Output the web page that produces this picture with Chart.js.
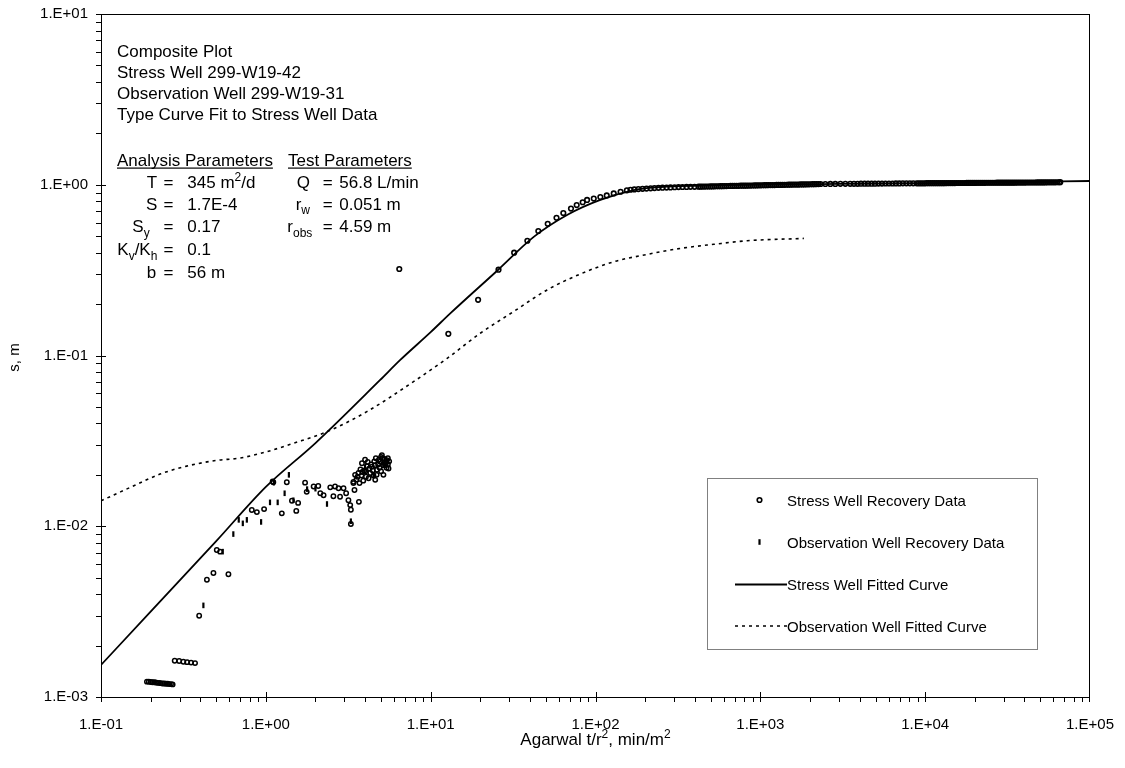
<!DOCTYPE html>
<html>
<head>
<meta charset="utf-8">
<script src="https://cdn.jsdelivr.net/npm/chart.js@4/dist/chart.umd.min.js"></script>
<style>
  body { margin: 0; background: #fff; }
</style>
</head>
<body>
<canvas id="chart" width="1125" height="768"></canvas>
<script>
const FONT = '"Liberation Sans", Arial, Helvetica, sans-serif';

// axis ticks
const xTicks = [0.1, 1, 10, 100, 1000, 10000, 100000];
const xTickLabels = ['1.E-01', '1.E+00', '1.E+01', '1.E+02', '1.E+03', '1.E+04', '1.E+05'];
const yTicks = [0.001, 0.01, 0.1, 1, 10];
const yTickLabels = ['1.E-03', '1.E-02', '1.E-01', '1.E+00', '1.E+01'];

// [Agarwal t/r2, s]
const stressData = [
    [6.45, 0.321], [12.8, 0.134], [19.4, 0.212], [25.8, 0.318], [32.1, 0.400], [38.6, 0.470], [45.0, 0.536],
    [51.3, 0.591], [58.0, 0.641], [63.8, 0.683], [71.0, 0.725], [76.9, 0.760], [83.6, 0.790], [88.9, 0.815],
    [97.6, 0.830], [107, 0.847], [117, 0.866], [129, 0.890], [142, 0.910], [155, 0.928],
    [163, 0.935], [172, 0.939], [182, 0.943], [193, 0.947], [204, 0.950], [216, 0.953], [228, 0.956],
    [241, 0.959], [255, 0.961], [270, 0.963], [285, 0.965], [302, 0.967], [319, 0.969], [337, 0.970],
    [357, 0.971], [377, 0.972], [399, 0.973], [422, 0.974],
    [433, 0.975], [445, 0.976], [458, 0.976], [471, 0.977], [484, 0.977], [498, 0.978], [512, 0.978],
    [527, 0.979], [542, 0.980], [557, 0.980], [573, 0.981], [589, 0.981], [606, 0.982], [623, 0.982],
    [641, 0.983], [659, 0.984], [678, 0.984], [697, 0.985], [717, 0.985], [737, 0.986], [758, 0.987],
    [780, 0.987], [802, 0.988], [824, 0.988], [848, 0.989], [872, 0.989], [897, 0.990], [922, 0.991],
    [948, 0.991], [975, 0.992], [1003, 0.992], [1031, 0.993], [1060, 0.994], [1091, 0.994], [1121, 0.995],
    [1153, 0.995], [1186, 0.996], [1220, 0.996], [1254, 0.997], [1290, 0.998], [1326, 0.998], [1364, 0.999],
    [1403, 0.999], [1442, 1.000], [1483, 1.001], [1525, 1.001], [1569, 1.002], [1613, 1.002], [1659, 1.003],
    [1706, 1.003], [1754, 1.004], [1804, 1.005], [1855, 1.005], [1908, 1.006], [1962, 1.006], [2018, 1.007],
    [2075, 1.008], [2134, 1.008], [2194, 1.009], [2257, 1.009], [2321, 1.010],
    [2480, 1.010], [2660, 1.011], [2850, 1.011], [3060, 1.012], [3280, 1.012], [3510, 1.013],
    [3700, 1.013], [3890, 1.013], [4080, 1.014], [4290, 1.014], [4500, 1.015], [4730, 1.015], [4960, 1.015],
    [5210, 1.016], [5470, 1.016], [5740, 1.017], [6030, 1.017], [6330, 1.017], [6640, 1.018], [6970, 1.018],
    [7320, 1.019], [7690, 1.019], [8070, 1.019], [8470, 1.020], [8890, 1.020],
    [9140, 1.020], [9400, 1.020], [9670, 1.020], [9950, 1.020], [10230, 1.021], [10520, 1.021], [10820, 1.021],
    [11130, 1.021], [11440, 1.021], [11770, 1.022], [12100, 1.022], [12450, 1.022], [12800, 1.022], [13160, 1.022],
    [13540, 1.023], [13920, 1.023], [14320, 1.023], [14720, 1.023], [15140, 1.023], [15570, 1.024], [16010, 1.024],
    [16470, 1.024], [16940, 1.024], [17420, 1.024], [17910, 1.025], [18420, 1.025], [18940, 1.025], [19480, 1.025],
    [20030, 1.025], [20600, 1.026], [21190, 1.026], [21790, 1.026], [22410, 1.026], [23040, 1.026], [23700, 1.027],
    [24370, 1.027], [25060, 1.027], [25770, 1.027], [26500, 1.027], [27260, 1.028], [28030, 1.028], [28830, 1.028],
    [29640, 1.028], [30490, 1.028], [31350, 1.029], [32240, 1.029], [33160, 1.029], [34100, 1.029], [35070, 1.029],
    [36060, 1.030], [37090, 1.030], [38140, 1.030], [39220, 1.030], [40340, 1.030], [41480, 1.031], [42660, 1.031],
    [43870, 1.031], [45120, 1.031], [46400, 1.031], [47710, 1.032], [49070, 1.032], [50460, 1.032], [51890, 1.032],
    [53370, 1.032], [54880, 1.033], [56440, 1.033], [58040, 1.033], [59690, 1.033], [61380, 1.033], [63130, 1.034],
    [64920, 1.034], [66000, 1.035]
];

const obsData = [
    [0.190, 1.23e-3], [0.195, 1.23e-3], [0.200, 1.225e-3], [0.205, 1.22e-3], [0.210, 1.22e-3], [0.215, 1.215e-3],
    [0.220, 1.21e-3], [0.225, 1.21e-3], [0.230, 1.205e-3], [0.236, 1.20e-3], [0.242, 1.20e-3], [0.248, 1.195e-3],
    [0.254, 1.195e-3], [0.260, 1.19e-3], [0.266, 1.19e-3], [0.272, 1.185e-3],
    [0.280, 1.63e-3], [0.298, 1.625e-3], [0.316, 1.61e-3], [0.333, 1.60e-3], [0.352, 1.59e-3], [0.372, 1.58e-3],
    [0.394, 2.99e-3], [0.439, 4.86e-3], [0.481, 5.32e-3], [0.504, 7.26e-3], [0.528, 7.10e-3], [0.593, 5.23e-3],
    [0.822, 1.245e-2], [0.882, 1.21e-2], [0.976, 1.26e-2], [1.10, 1.83e-2], [1.11, 1.81e-2], [1.34, 1.81e-2],
    [1.25, 1.19e-2], [1.44, 1.41e-2], [1.57, 1.37e-2], [1.53, 1.23e-2], [1.73, 1.80e-2], [1.77, 1.59e-2],
    [1.95, 1.71e-2], [2.08, 1.72e-2], [2.14, 1.56e-2], [2.24, 1.52e-2], [2.46, 1.69e-2], [2.57, 1.50e-2],
    [2.63, 1.71e-2], [2.76, 1.67e-2], [2.82, 1.49e-2], [2.96, 1.67e-2], [3.07, 1.56e-2], [3.17, 1.42e-2],
    [3.25, 1.33e-2], [3.28, 1.25e-2], [3.28, 1.03e-2], [3.40, 1.79e-2], [3.45, 1.63e-2], [3.67, 1.39e-2],
    [3.48, 2.00e-2], [3.70, 1.79e-2], [3.40, 1.82e-2], [3.83, 2.34e-2], [4.01, 2.09e-2], [4.20, 1.91e-2],
    [4.40, 2.23e-2], [4.61, 1.87e-2], [4.72, 2.14e-2], [4.94, 2.39e-2], [5.06, 2.61e-2], [5.17, 2.00e-2],
    [5.30, 2.28e-2], [5.43, 2.44e-2], [5.55, 2.18e-2], [3.60, 1.95e-2], [3.90, 1.85e-2], [4.10, 2.25e-2],
    [4.30, 2.05e-2], [4.50, 1.98e-2], [4.80, 2.30e-2], [5.00, 2.10e-2], [5.20, 2.35e-2], [5.40, 2.20e-2],
    [5.60, 2.40e-2], [4.65, 2.50e-2], [5.10, 2.50e-2], [3.75, 2.15e-2],
    [3.55, 1.88e-2], [3.65, 2.05e-2], [3.80, 1.98e-2], [3.95, 2.12e-2], [4.05, 1.95e-2], [4.15, 2.38e-2],
    [4.25, 2.18e-2], [4.35, 2.30e-2], [4.45, 2.12e-2], [4.55, 2.40e-2], [4.70, 2.00e-2], [4.85, 2.45e-2],
    [4.90, 2.20e-2], [5.00, 2.55e-2], [5.15, 2.28e-2], [5.25, 2.48e-2], [5.35, 2.35e-2], [5.50, 2.50e-2],
    [5.50, 2.30e-2], [4.60, 2.28e-2], [4.00, 2.45e-2], [3.85, 2.08e-2]
];

const obsBarData = [
    [0.418, 3.44e-3], [0.548, 7.10e-3], [0.635, 9.00e-3], [0.685, 1.09e-2], [0.725, 1.04e-2], [0.767, 1.09e-2],
    [0.936, 1.06e-2], [1.06, 1.38e-2], [1.18, 1.38e-2], [1.38, 2.00e-2], [1.30, 1.56e-2], [2.35, 1.35e-2],
    [3.28, 1.07e-2], [1.12, 1.80e-2], [1.47, 1.42e-2], [1.78, 1.65e-2], [2.00, 1.66e-2], [4.00, 2.20e-2],
    [4.50, 2.00e-2], [5.20, 2.30e-2]
];

const fitStress = [
    [0.1, 1.54e-3], [0.2, 3.16e-3], [0.5, 8.18e-3], [1.0, 1.70e-2], [2.0, 3.07e-2], [4.94, 7.19e-2],
    [6.54, 9.42e-2], [10, 0.137], [13.2, 0.177], [25.8, 0.319], [42.2, 0.495], [67.2, 0.665], [107, 0.815],
    [171, 0.930], [220, 0.962], [300, 0.980], [500, 0.992], [870, 1.000], [3000, 1.012], [10000, 1.022],
    [30000, 1.033], [100000, 1.052]
];

const fitObs = [
    [0.1, 1.41e-2], [0.1135, 1.49e-2], [0.157, 1.72e-2], [0.228, 2.02e-2], [0.331, 2.25e-2], [0.5, 2.43e-2],
    [0.698, 2.51e-2], [1.01, 2.73e-2], [1.47, 3.06e-2], [2.35, 3.58e-2], [4.10, 4.69e-2], [7.87, 7.03e-2],
    [12.6, 9.63e-2], [20.0, 0.135], [31.9, 0.181], [50.8, 0.242], [80.9, 0.300], [129, 0.354], [206, 0.391],
    [328, 0.424], [522, 0.448], [832, 0.470], [1837, 0.485]
];

function toXY(pairs) {
    return pairs.map(function(p) { return {x: p[0], y: p[1]}; });
}

// text with sub/superscripts, parts = [[text, ''|'sub'|'sup'], ...]
function drawRich(ctx, x, y, parts, size) {
    parts.forEach(function(p) {
        var mode = p[1] || '';
        var fs = mode ? Math.round(size * 0.68) : size;
        var dy = mode == 'sub' ? size * 0.27 : (mode == 'sup' ? -size * 0.42 : 0);
        ctx.font = fs + 'px ' + FONT;
        ctx.fillText(p[0], x, y + dy);
        x += ctx.measureText(p[0]).width;
    });
    return x;
}

function richWidth(ctx, parts, size) {
    var w = 0;
    parts.forEach(function(p) {
        ctx.font = (p[1] ? Math.round(size * 0.68) : size) + 'px ' + FONT;
        w += ctx.measureText(p[0]).width;
    });
    return w;
}

const framePlugin = {
    id: 'frame',
    afterDraw: function(chart) {
        var ctx = chart.ctx, a = chart.chartArea;
        var xs = chart.scales.x, ys = chart.scales.y;
        ctx.save();
        ctx.strokeStyle = '#000';
        ctx.lineWidth = 1;
        ctx.strokeRect(a.left + 0.5, a.top + 0.5, a.right - a.left - 1, a.bottom - a.top);

        // log ticks: majors cross the axis, minors point outward
        ctx.beginPath();
        for (var e = -1; e <= 4; e++) {
            for (var m = 1; m <= 9; m++) {
                var px = Math.round(xs.getPixelForValue(m * Math.pow(10, e))) + 0.5;
                ctx.moveTo(px, a.bottom + 5);
                ctx.lineTo(px, m == 1 ? a.bottom - 5 : a.bottom);
            }
        }
        var pxEnd = Math.round(xs.getPixelForValue(1e5)) - 0.5;
        ctx.moveTo(pxEnd, a.bottom + 5);
        ctx.lineTo(pxEnd, a.bottom - 5);
        for (var e2 = -3; e2 <= 0; e2++) {
            for (var m2 = 1; m2 <= 9; m2++) {
                var py = Math.round(ys.getPixelForValue(m2 * Math.pow(10, e2))) + 0.5;
                ctx.moveTo(a.left - 5, py);
                ctx.lineTo(m2 == 1 ? a.left + 5 : a.left, py);
            }
        }
        var pyTop = Math.round(ys.getPixelForValue(10)) + 0.5;
        ctx.moveTo(a.left - 5, pyTop);
        ctx.lineTo(a.left + 5, pyTop);
        ctx.stroke();

        // legend box
        ctx.fillStyle = '#fff';
        ctx.fillRect(707, 478, 330, 171);
        ctx.strokeStyle = '#808080';
        ctx.strokeRect(707.5, 478.5, 330, 171);
        ctx.strokeStyle = '#000';
        ctx.fillStyle = '#000';
        ctx.font = '15px ' + FONT;
        ctx.textBaseline = 'alphabetic';
        ctx.textAlign = 'left';
        var ds = chart.data.datasets;
        var rows = [[0, 500], [2, 542], [3, 584.5], [4, 626]];
        rows.forEach(function(r) {
            var d = ds[r[0]];
            var cy = r[1];
            ctx.save();
            ctx.strokeStyle = '#000';
            if (d.showLine) {
                ctx.lineWidth = d.borderWidth;
                ctx.setLineDash(d.borderDash || []);
                ctx.beginPath();
                ctx.moveTo(735, cy);
                ctx.lineTo(787, cy);
                ctx.stroke();
            } else if (d.pointStyle == 'line') {
                ctx.lineWidth = d.pointBorderWidth;
                ctx.beginPath();
                ctx.moveTo(759.5, cy - d.pointRadius);
                ctx.lineTo(759.5, cy + d.pointRadius);
                ctx.stroke();
            } else {
                ctx.lineWidth = d.pointBorderWidth;
                ctx.beginPath();
                ctx.arc(759.5, cy, d.pointRadius, 0, Math.PI * 2);
                ctx.stroke();
            }
            ctx.restore();
            ctx.fillText(d.label, 787, cy + 5.5);
        });

        // notes in the upper left
        var notes = ['Composite Plot', 'Stress Well 299-W19-42', 'Observation Well 299-W19-31', 'Type Curve Fit to Stress Well Data'];
        ctx.font = '17px ' + FONT;
        notes.forEach(function(t, i) {
            ctx.fillText(t, 117, 56.5 + i * 21.2);
        });

        var heads = [['Analysis Parameters', 117], ['Test Parameters', 288]];
        heads.forEach(function(h) {
            ctx.font = '17px ' + FONT;
            ctx.fillText(h[0], h[1], 165.7);
            var w = ctx.measureText(h[0]).width;
            ctx.fillRect(h[1], 167.5, w, 1.2);
        });

        var analysis = [
            [146.7, 187.7, [['T']], [['345 m'], ['2', 'sup'], ['/d']]],
            [146, 209.5, [['S']], [['1.7E-4']]],
            [132.3, 232, [['S'], ['y', 'sub']], [['0.17']]],
            [117.3, 255, [['K'], ['v', 'sub'], ['/K'], ['h', 'sub']], [['0.1']]],
            [146.7, 278, [['b']], [['56 m']]]
        ];
        analysis.forEach(function(r) {
            drawRich(ctx, r[0], r[1], r[2], 17);
            drawRich(ctx, 163.5, r[1], [['=']], 17);
            drawRich(ctx, 187.3, r[1], r[3], 17);
        });

        var test = [
            [296.7, 187.7, [['Q']], [['56.8 L/min']]],
            [295.7, 209.5, [['r'], ['w', 'sub']], [['0.051 m']]],
            [287.3, 232, [['r'], ['obs', 'sub']], [['4.59 m']]]
        ];
        test.forEach(function(r) {
            drawRich(ctx, r[0], r[1], r[2], 17);
            drawRich(ctx, 322.7, r[1], [['=']], 17);
            drawRich(ctx, 339.3, r[1], r[3], 17);
        });

        // axis titles
        var xTitle = [['Agarwal t/r'], ['2', 'sup'], [', min/m'], ['2', 'sup']];
        var tw = richWidth(ctx, xTitle, 17);
        drawRich(ctx, (a.left + a.right) / 2 - tw / 2, 745, xTitle, 17);

        ctx.translate(18.5, 357.5);
        ctx.rotate(-Math.PI / 2);
        ctx.font = '15px ' + FONT;
        ctx.textAlign = 'center';
        ctx.fillText('s, m', 0, 0);
        ctx.restore();
    }
};

new Chart(document.getElementById('chart'), {
    type: 'scatter',
    data: {
        datasets: [{
            label: 'Stress Well Recovery Data',
            data: toXY(stressData),
            pointStyle: 'circle',
            pointRadius: 2.3,
            pointBorderWidth: 1.6,
            pointBorderColor: '#000',
            pointBackgroundColor: 'rgba(0,0,0,0)'
        }, {
            label: 'Observation Well Recovery Data (o)',
            data: toXY(obsData),
            pointStyle: 'circle',
            pointRadius: 2.2,
            pointBorderWidth: 1.5,
            pointBorderColor: '#000',
            pointBackgroundColor: 'rgba(0,0,0,0)'
        }, {
            label: 'Observation Well Recovery Data',
            data: toXY(obsBarData),
            pointStyle: 'line',
            pointRotation: 90,
            pointRadius: 2.8,
            pointBorderWidth: 2.2,
            pointBorderColor: '#000'
        }, {
            label: 'Stress Well Fitted Curve',
            data: toXY(fitStress),
            showLine: true,
            borderColor: '#000',
            borderWidth: 1.8,
            pointRadius: 0,
            cubicInterpolationMode: 'monotone'
        }, {
            label: 'Observation Well Fitted Curve',
            data: toXY(fitObs),
            showLine: true,
            borderColor: '#000',
            borderWidth: 1.6,
            borderDash: [3, 4],
            pointRadius: 0,
            cubicInterpolationMode: 'monotone'
        }]
    },
    options: {
        responsive: false,
        devicePixelRatio: 1,
        animation: false,
        layout: {padding: {left: 0, right: 35, top: 14, bottom: 0}},
        plugins: {legend: {display: false}, tooltip: {enabled: false}},
        scales: {
            x: {
                type: 'logarithmic',
                min: 0.1,
                max: 100000,
                afterBuildTicks: function(s) { s.ticks = xTicks.map(function(v) { return {value: v}; }); },
                afterFit: function(s) { s.height = 71; s.paddingLeft = 0; s.paddingRight = 0; },
                grid: {display: false, drawTicks: false},
                border: {display: false},
                ticks: {
                    autoSkip: false, maxRotation: 0, padding: 19, color: '#000',
                    font: {family: FONT, size: 15},
                    callback: function(v) { return xTickLabels[xTicks.indexOf(v)]; }
                }
            },
            y: {
                type: 'logarithmic',
                min: 0.001,
                max: 10,
                afterBuildTicks: function(s) { s.ticks = yTicks.map(function(v) { return {value: v}; }); },
                afterFit: function(s) { s.width = 101; s.paddingTop = 0; s.paddingBottom = 0; },
                grid: {display: false, drawTicks: false},
                border: {display: false},
                ticks: {
                    autoSkip: false, padding: 13, color: '#000',
                    font: {family: FONT, size: 15},
                    callback: function(v) { return yTickLabels[yTicks.indexOf(v)]; }
                }
            }
        }
    },
    plugins: [framePlugin]
});
</script>
</body>
</html>
